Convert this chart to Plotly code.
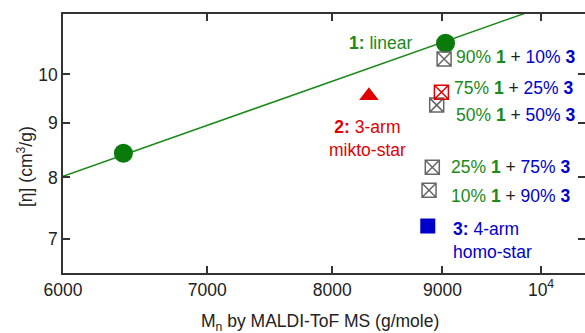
import math
import plotly.graph_objects as go

# ---- data ----
linear_x = [6400, 9030]          # 1: linear (green circles)
linear_y = [8.43, 10.70]
fit_x = [6000, 10500]            # fitted line for linear polymer
fit_y = [8.02, 11.97]
mikto_x = [8320]                 # 2: 3-arm mikto-star (red triangle)
mikto_y = [9.55]
homo_x = [8860]                  # 3: 4-arm homo-star (blue square)
homo_y = [7.20]
blend_x = [9016, 8945, 8903, 8872]   # blends 90/10, 50/50, 25/75, 10/90
blend_y = [10.34, 9.357, 8.177, 7.78]
blend_red_x = [8990]             # blend 75/25 (red box)
blend_red_y = [9.62]

x_ticks = [6000, 7000, 8000, 9000, 10000]
x_ticktext = ["6000", "7000", "8000", "9000", "10<sup>4</sup>"]
y_ticks = [7, 8, 9, 10]
y_ticktext = ["7", "8", "9", "10"]
x_range = [6000, 10481]
y_range = [6.503, 11.40]

GREEN = "#1a8a1a"
DGREEN = "#0a7a0a"
RED = "#e00000"
BLUE = "#0000cc"
GRAY = "#666666"
AX = "#333333"
FONT = "Liberation Sans, Arial, sans-serif"
FS = 17.5

fig = go.Figure()
fig.add_trace(go.Scatter(x=fit_x, y=fit_y, mode="lines",
                         line=dict(color=GREEN, width=1.5), hoverinfo="skip"))
fig.add_trace(go.Scatter(x=linear_x, y=linear_y, mode="markers",
                         marker=dict(symbol="circle", size=19, color=DGREEN)))
fig.add_trace(go.Scatter(x=mikto_x, y=mikto_y, mode="markers",
                         marker=dict(symbol="triangle-up", size=17, color=RED)))
fig.add_trace(go.Scatter(x=homo_x, y=homo_y, mode="markers",
                         marker=dict(symbol="square", size=15, color=BLUE)))
fig.add_trace(go.Scatter(x=blend_x, y=blend_y, mode="markers",
                         marker=dict(symbol="square-x-open", size=14, color=GRAY,
                                     line=dict(width=1.5, color=GRAY))))
fig.add_trace(go.Scatter(x=blend_red_x, y=blend_red_y, mode="markers",
                         marker=dict(symbol="square-x-open", size=14, color=RED,
                                     line=dict(width=1.5, color=RED))))
# dummy trace for the right-side tick axis
fig.add_trace(go.Scatter(x=[None], y=[None], yaxis="y2", showlegend=False))

def blend(a, b):
    return (f'<span style="color:{GREEN}">{a}% <b>1</b></span>'
            f' + <span style="color:{BLUE}">{b}% <b>3</b></span>')

L, R, T, B = 63, 585, 14, 273
def px(x):
    return (x - L) / (R - L)
def py(y):
    return (B - y) / (B - T)

ann = []
ann.append(dict(text=f'<span style="color:{GREEN}"><b>1:</b> linear</span>',
                x=px(380), y=py(43), xanchor="center", yanchor="middle"))
ann.append(dict(text=f'<span style="color:{RED}"><b>2:</b> 3-arm<br>mikto-star</span>',
                x=px(367), y=py(138), xanchor="center", yanchor="middle"))
ann.append(dict(text=blend(90, 10), x=px(454), y=py(57), xanchor="left", yanchor="middle"))
ann.append(dict(text=blend(75, 25), x=px(452), y=py(88), xanchor="left", yanchor="middle"))
ann.append(dict(text=blend(50, 50), x=px(454), y=py(115), xanchor="left", yanchor="middle"))
ann.append(dict(text=blend(25, 75), x=px(449), y=py(167), xanchor="left", yanchor="middle"))
ann.append(dict(text=blend(10, 90), x=px(449), y=py(196), xanchor="left", yanchor="middle"))
ann.append(dict(text=f'<span style="color:{BLUE}"><b>3:</b> 4-arm<br>homo-star</span>',
                x=px(451), y=py(240), xanchor="left", yanchor="middle", align="left"))
ann.append(dict(text="M<sub>n</sub> by MALDI-ToF MS (g/mole)",
                x=px(320), y=py(322), xanchor="center", yanchor="middle"))
ann.append(dict(text="[η] (cm<sup>3</sup>/g)", textangle=-90,
                x=px(25), y=py(167), xanchor="center", yanchor="middle"))
for a in ann:
    a.update(xref="paper", yref="paper", showarrow=False,
             font=dict(family=FONT, size=FS, color="#222222"))

axis_common = dict(showgrid=False, zeroline=False, ticks="inside", ticklen=7,
                   tickwidth=1.5, tickcolor=AX, linecolor=AX, linewidth=1.5,
                   tickfont=dict(family=FONT, size=FS, color="#222222"))

fig.update_layout(
    width=585, height=333,
    margin=dict(l=L, r=585 - R, t=T, b=333 - B),
    plot_bgcolor="white", paper_bgcolor="white",
    showlegend=False,
    annotations=ann,
    xaxis=dict(type="log", range=[math.log10(v) for v in x_range],
               tickvals=x_ticks, ticktext=x_ticktext, showline=True,
               mirror="ticks", **axis_common),
    yaxis=dict(type="log", range=[math.log10(v) for v in y_range],
               tickvals=y_ticks, ticktext=y_ticktext, showline=True,
               mirror=False, **axis_common),
    yaxis2=dict(type="log", range=[math.log10(v) for v in y_range],
                tickvals=y_ticks, overlaying="y", side="right",
                showticklabels=False, showgrid=False, zeroline=False,
                showline=False, ticks="inside", ticklen=7, tickwidth=1.5,
                tickcolor=AX),
)

fig.write_html("out.html", config={"displayModeBar": False},
               post_script="document.body.style.margin='0';document.body.style.overflow='hidden';")
